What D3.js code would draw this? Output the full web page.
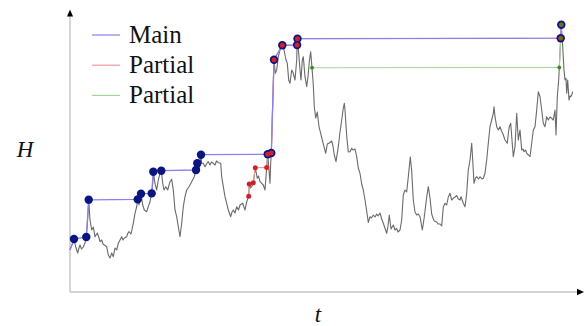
<!DOCTYPE html>
<html><head><meta charset="utf-8">
<script src="https://cdn.jsdelivr.net/npm/d3@7"></script>
<style>html,body{margin:0;padding:0;background:#fff;}svg{display:block;}</style>
</head><body>
<svg id="c" width="585" height="326"></svg>
<script>
// ---- data ----
const walkT = [0,1,2.5,4,5.5,7.7,9,10,11.5,13.3,15,16.3,17.5,18.7,20,21.7,23.3,25,27.3,29,30,31.7,33,34.3,36.7,38.3,40,41.7,43.3,45,46.7,48.3,50,51.7,53,54.3,56.7,58,59,61,63.3,65,66.7,67.7,69,71,72.7,74.3,76.7,78.3,80,81.7,82.7,83.3,85,86.7,88.3,90,91.3,92.7,94,95.7,97.7,100,101.7,103.3,105,106.7,108.3,110,111.7,113.3,115,116.7,119,121.7,124.3,126,127.3,129,131,131.7,133.3,135,136.5,138.3,140,141.5,143.3,145,146.5,148.3,150.7,151.7,153.3,155,156.7,158.3,160.7,162,163.3,165,166.7,168.5,170,172.7,175,176.7,178.7,179.2,180.5,181.7,183.3,185.3,187.3,188.5,190,191.7,193.3,195,196.7,197.7,199,200,200.7,201.3,204,205.3,206.7,208.3,210,212.3,214,216,217.3,218.7,220,221.7,223.3,225,226.7,227.1,227.5,228.7,230,231,232.3,233.3,235,236.7,238,239.3,240.7,242,243.3,244.3,245.7,247.3,249,250.7,252.3,254,255.7,257.3,259.3,261.7,263,264.3,266,268.3,270,271.7,273.3,274.3,275,276.7,278.3,280,281.7,283,285,286.7,288.3,290,291.7,293.3,295,296.7,298.3,300,301.5,303.3,305,306.7,308,310,311.7,313.3,315,316.7,318,319.3,321,323.3,325,326.7,328,330,331.7,333.3,335,336.7,338.3,340.3,341.7,343.3,345,346.7,348.3,350,352.3,354.3,355.5,356.7,358.3,360,361.7,363,364.3,366.7,368,370,371.7,373.3,375,376.7,378.3,380,381.7,383.3,385,386.7,388.3,390,391,393.3,395,396.7,398.3,400,401.7,402.7,404,405.5,406.7,408.5,410,412,413.3,415,416.7,418.3,420,421.7,423.3,424,425,426.7,428.3,430,431.5,432.7,434,435,437.3,438.5,439.3,440.7,442,443.3,445,446.7,448.3,450,451.7,453,454,455.5,456.7,458.5,460,461.7,463.3,465,466.7,468.3,470,471.7,473.3,475,476.7,478.3,480,481.7,483.3,485,486,487.3,488.7,489.3,490.7,491.3,492.7,494,495,496,496.7,497.7,499,500,500.7,501.7,502.7];
const walkH = [42,45,48,53,46,39,44,47,43,45,49,55,70,92.2,72,62,65,55.3,59,54,50.3,52,48,47,45.3,37,34,39,35.3,44,42,48.7,52,55.3,52,54,55.3,59,60.3,58,68.7,78.7,85.3,92.6,87,98.3,87,82,80.3,85.3,90.3,98.6,108.7,120.3,108.7,102,112,118.7,121.3,108.7,102,105.3,102,110.3,112.7,102,82,75.3,65.3,55.3,68.7,85.3,95.3,102,105.3,110.3,115.3,122,128.7,120.3,137.3,128.7,128.7,125.3,128,130.3,127,130,128.7,127,131,129.3,128.7,115.3,105.3,95.3,88.7,82,75.3,80,82,79,85.3,82,87,88.7,82,90.3,95.7,108,104,105.3,109.3,124.3,113.7,116,110.3,108.7,107,102,124.6,137.7,122,108.7,128.7,139,232.3,218.7,222,235.3,242,246.7,242,232,228.7,212,208.7,222,218.7,212,232,247,253.3,238.7,222,212,232,235.3,215.3,205.3,215.3,230.3,240.3,224.3,207,185.3,174,180,165.3,158.7,152,145.3,138.7,148,149,151,146,137,130.3,145.3,160,172,184,188.7,182,156,140,140.3,143.7,142,143,135.3,124,118.7,108,102,92,81,69.5,75.3,74,77,75,78,76,79,73,68.7,63.7,58.7,66,77,63,67,62,63.5,60,62,72,97,102,100,115.3,135,121,92,80,77,78,75.3,62,75,85,95,105.3,94,78,74,71,70,68,68,66,85,88.7,87,95,98.7,92,93.7,95,96.5,93,92,95.3,88.7,85.3,98.7,122,132,148.7,132,108.7,114,115.3,113,115.3,113,113.7,118.7,132,148.7,165.3,172,178.7,185.3,175.3,165.3,162,165.3,161,158.7,155,152,148.7,160,165.3,168.7,152,135.3,145.3,178.7,152,162,142,143,140.3,142,138.7,137,135.3,148.7,162,165.3,182,200.3,195.3,182,168.7,165.3,175.3,172,175,173.7,172,182,157,195.3,212,224.6,253.8,267.3,245.3,222,212,213.7,198.7,212,192,196,195.3,197,200.3];

const mainT = [0,4,16.3,18.7,67.7,71,81.7,83.3,91.3,126,127.3,131,197.7,201.3,204,212.3,227.1,227.5,490.7,491.3];
const mainH = [42,53,55,92.2,92.6,98.3,98.6,120.3,121.3,122,128.7,137.3,137.7,139,232.3,246.7,247,253.3,253.8,267.3];
const mainMarkerStart = 1; // first vertex is the start of the path, not a marked record

const redT = [178.7,179.2,183.3,185.3,196.7,197.7,201.3,204,212.3,227.1,227.5,490.7,491.3];
const redH = [95.7,108,109.3,124.3,124.6,137.7,139,232.3,246.7,247,253.3,253.8,267.3];

const greenT = [242,489.3,490.7,491.3];
const greenH = [224.3,224.6,253.8,267.3];

const legendLabels = ["Main","Partial","Partial"];
const legendColors = ["#8a80f0","#f09a9a","#a6d49a"];
const xLabel = "t", yLabel = "H";

// ---- drawing ----
const svg = d3.select("#c");
const x = d3.scaleLinear().domain([0,515]).range([70,585]);
const y = d3.scaleLinear().domain([0,282]).range([292,10]);

// axes
const gx = svg.append("g").attr("transform",`translate(0,${y(0)})`)
  .call(d3.axisBottom(x).tickValues([]).tickSizeOuter(0));
gx.select(".domain").attr("stroke","#c4c4c4").attr("stroke-width",1.4).attr("d",`M${x(0)},0H${x(509)}`);
const gy = svg.append("g").attr("transform",`translate(${x(0)},0)`)
  .call(d3.axisLeft(y).tickValues([]).tickSizeOuter(0));
gy.select(".domain").attr("stroke","#c4c4c4").attr("stroke-width",1.4).attr("d",`M0,${y(0)}V${y(276)}`);
// arrowheads
const xt = x(514), yt = y(0);
svg.append("path").attr("d",`M${xt},${yt}L${xt-7},${yt-3.2}L${xt-7},${yt+3.2}Z`).attr("fill","#000");
const ax = x(0), ay = y(282.5);
svg.append("path").attr("d",`M${ax},${ay}L${ax-3},${ay+7}L${ax+3},${ay+7}Z`).attr("fill","#000");

// walk
const walk = walkT.map((t,i)=>[t,walkH[i]]);
const line = d3.line().x(d=>x(d[0])).y(d=>y(d[1]));
svg.append("path").datum(walk).attr("d",line).attr("fill","none")
  .attr("stroke","#5a5a5a").attr("stroke-width",1.1).attr("stroke-opacity",0.9).attr("stroke-linejoin","round");

const green = greenT.map((t,i)=>[t,greenH[i]]);
const red = redT.map((t,i)=>[t,redH[i]]);
const main = mainT.map((t,i)=>[t,mainH[i]]);

svg.append("path").datum(green).attr("d",line).attr("fill","none").attr("stroke",legendColors[2]).attr("stroke-width",1.1);
svg.append("path").datum(red).attr("d",line).attr("fill","none").attr("stroke",legendColors[1]).attr("stroke-width",1.1);
svg.append("path").datum(main).attr("d",line).attr("fill","none").attr("stroke",legendColors[0]).attr("stroke-width",1.3);

svg.append("g").selectAll("circle").data(main.slice(mainMarkerStart)).join("circle")
  .attr("cx",d=>x(d[0])).attr("cy",d=>y(d[1])).attr("r",4.2).attr("fill","#0b1580");
svg.append("g").selectAll("circle").data(red).join("circle")
  .attr("cx",d=>x(d[0])).attr("cy",d=>y(d[1])).attr("r",2.5).attr("fill","#d02028");
svg.append("g").selectAll("circle").data(green).join("circle")
  .attr("cx",d=>x(d[0])).attr("cy",d=>y(d[1])).attr("r",1.9).attr("fill","#3a8a18");

// legend
const lg = svg.append("g");
legendLabels.forEach((lab,i)=>{
  const yy = 35 + i*30.2;
  lg.append("line").attr("x1",92).attr("x2",120).attr("y1",yy).attr("y2",yy)
    .attr("stroke",legendColors[i]).attr("stroke-width",1.2);
  lg.append("text").attr("x",129).attr("y",yy+8).text(lab)
    .attr("font-family","'Liberation Serif','Times New Roman',serif").attr("font-size",25).attr("fill","#111");
});

// axis labels
svg.append("text").attr("x",25).attr("y",157).attr("text-anchor","middle").text(yLabel)
  .attr("font-family","'Liberation Serif',serif").attr("font-style","italic").attr("font-size",23).attr("fill","#111");
svg.append("text").attr("x",318).attr("y",322).attr("text-anchor","middle").text(xLabel)
  .attr("font-family","'Liberation Serif',serif").attr("font-style","italic").attr("font-size",23).attr("fill","#111");
</script>
</body></html>
